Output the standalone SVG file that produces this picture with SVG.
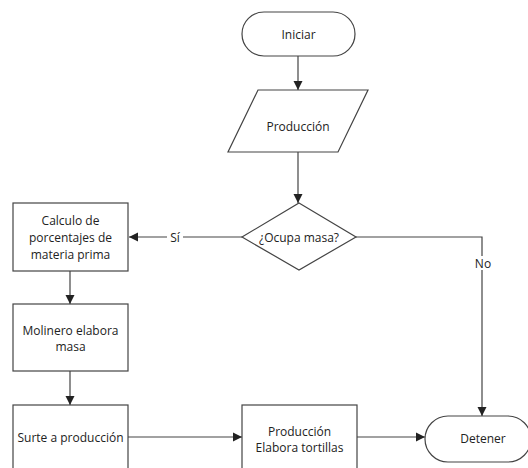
<svg xmlns="http://www.w3.org/2000/svg" width="528" height="468" viewBox="0 0 528 468">
<defs>
<marker id="arr" markerWidth="10" markerHeight="10" refX="9" refY="5" orient="auto" markerUnits="userSpaceOnUse">
<path d="M0,0.5 L9,5 L0,9.5 Z" fill="#222"/>
</marker>
<style>
.s{fill:#fff;stroke:#444;stroke-width:1.2}
.t{font-family:"Open Sans","DejaVu Sans",sans-serif;font-size:12px;fill:#222;text-anchor:middle;dominant-baseline:central}
.c{fill:none;stroke:#444;stroke-width:1.2}
.lb{font-family:"Open Sans","DejaVu Sans",sans-serif;font-size:12px;fill:#222;text-anchor:middle;dominant-baseline:central}
</style>
</defs>
<rect width="528" height="468" fill="#fff"/>
<g id="connectors">
<line class="c" x1="298" y1="56" x2="298" y2="90" marker-end="url(#arr)"/>
<line class="c" x1="298" y1="152" x2="298" y2="203" marker-end="url(#arr)"/>
<line class="c" x1="242" y1="237" x2="129" y2="237" marker-end="url(#arr)"/>
<polyline class="c" points="356,237 482,237 482,416" marker-end="url(#arr)"/>
<line class="c" x1="70" y1="271" x2="70" y2="304" marker-end="url(#arr)"/>
<line class="c" x1="70" y1="371" x2="70" y2="405" marker-end="url(#arr)"/>
<line class="c" x1="128" y1="437" x2="242" y2="437" marker-end="url(#arr)"/>
<line class="c" x1="357" y1="437" x2="425" y2="437" marker-end="url(#arr)"/>
<rect x="167" y="230" width="16" height="14" fill="#fff"/>
<text class="lb" x="175" y="237">Sí</text>
<rect x="473" y="256" width="19" height="14" fill="#fff"/>
<text class="lb" x="483" y="263">No</text>
</g>
<g id="iniciar">
<rect class="s" x="242" y="12" width="113" height="44" rx="22"/>
<text class="t" x="298.5" y="34">Iniciar</text>
</g>
<g id="produccion">
<polygon class="s" points="258,90 368,90 338,152 228,152"/>
<text class="t" x="298" y="126">Producción</text>
</g>
<g id="ocupa">
<polygon class="s" points="299,203 356,237 299,270 242,237"/>
<text class="t" x="299" y="237">¿Ocupa masa?</text>
</g>
<g id="calculo">
<rect class="s" x="13" y="203" width="115" height="68"/>
<text class="t" x="70.5" y="220">Calculo de</text>
<text class="t" x="70.5" y="237">porcentajes de</text>
<text class="t" x="70.5" y="254">materia prima</text>
</g>
<g id="molinero">
<rect class="s" x="13" y="304" width="115" height="67"/>
<text class="t" x="70.5" y="330">Molinero elabora</text>
<text class="t" x="70.5" y="346">masa</text>
</g>
<g id="surte">
<rect class="s" x="13" y="405" width="115" height="80"/>
<text class="t" x="70.5" y="437">Surte a producción</text>
</g>
<g id="elabora">
<rect class="s" x="242" y="405" width="115" height="80"/>
<text class="t" x="299.5" y="431">Producción</text>
<text class="t" x="299.5" y="447">Elabora tortillas</text>
</g>
<g id="detener">
<rect class="s" x="425" y="416" width="106" height="46" rx="23"/>
<text class="t" x="483" y="438">Detener</text>
</g>
</svg>
